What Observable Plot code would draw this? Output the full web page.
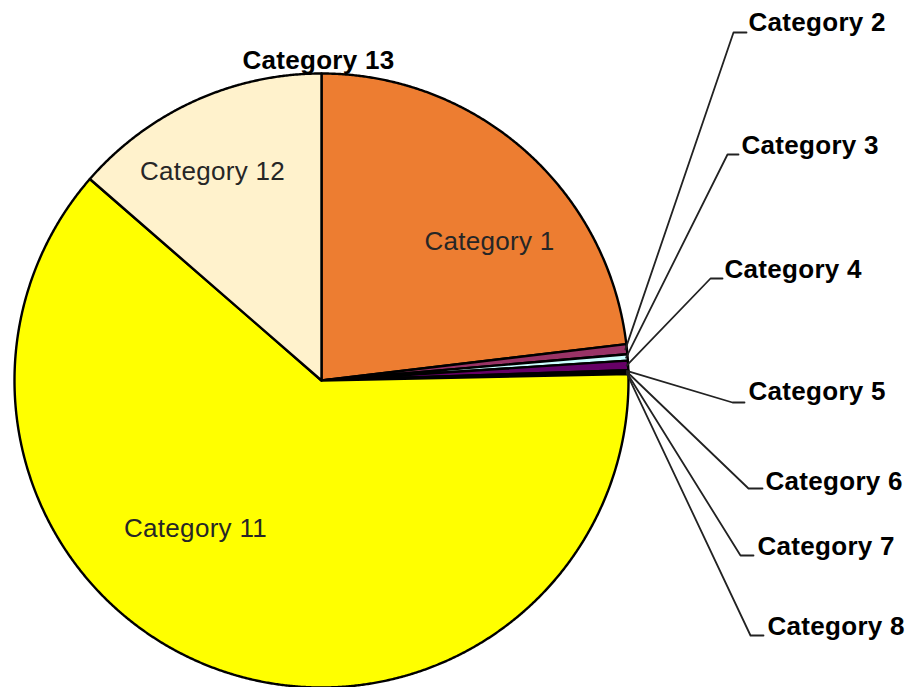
<!DOCTYPE html>
<html><head><meta charset="utf-8">
<script src="https://cdn.jsdelivr.net/npm/d3@7"></script>
<script src="https://cdn.jsdelivr.net/npm/@observablehq/plot@0.6"></script>
<style>body{margin:0;background:#fff;overflow:hidden}</style>
</head><body><div id="chart"></div>
<script>
const categories = ["Category 1","Category 2","Category 3","Category 4","Category 5","Category 6","Category 7","Category 8","Category 9","Category 10","Category 11","Category 12","Category 13"];
const values = [23.1, 0.53, 0.33, 0.5, 0.05, 0.05, 0.05, 0.05, 0, 0, 61.7, 13.6, 0];
const colors = ["#ED7D31","#993366","#CCFFFF","#660066","#FF8080","#0066CC","#CCCCFF","#000080","#FF00FF","#00FFFF","#FFFF00","#FFF2CC","#800080"];

// Layout (pixel positions of label anchors) — not data
const W = 907, H = 687, CX = 321, CY = 380, R = 307;
const outsideLabels = [
  {name:"Category 2", tx:748, ty:22,  ex:733, ey:32,  hx:746},
  {name:"Category 3", tx:741, ty:145, ex:727, ey:154, hx:738},
  {name:"Category 4", tx:724, ty:269, ex:710, ey:278, hx:722},
  {name:"Category 5", tx:748, ty:391, ex:732, ey:402, hx:744},
  {name:"Category 6", tx:765, ty:481, ex:748, ey:488, hx:762},
  {name:"Category 7", tx:757, ty:546, ex:740, ey:555, hx:753},
  {name:"Category 8", tx:767, ty:626, ex:750, ey:635, hx:763}
];
const insideLabels = [
  {name:"Category 1",  tx:489, ty:241, bold:false},
  {name:"Category 12", tx:212, ty:171, bold:false},
  {name:"Category 11", tx:195, ty:528, bold:false},
  {name:"Category 13", tx:318, ty:60,  bold:true}
];
const ux = px => (px - CX) / R, uy = py => (py - CY) / R;

const data = categories.map((c, i) => ({category: c, value: values[i], color: colors[i]}));
const arcs = d3.pie().sort(null).value(d => d.value)(data);
const pt = (a, r=1) => [r * Math.sin(a), -r * Math.cos(a)];

const wedges = arcs.filter(a => a.data.value > 0).map(a => {
  const coords = [[0, 0]];
  const n = Math.max(2, Math.ceil((a.endAngle - a.startAngle) / (Math.PI / 720)));
  for (let k = 0; k <= n; k++) coords.push(pt(a.startAngle + (a.endAngle - a.startAngle) * k / n));
  coords.push([0, 0]);
  return {type: "Feature", properties: {color: a.data.color}, geometry: {type: "Polygon", coordinates: [coords]}};
});

const byName = new Map(arcs.map(a => [a.data.category, a]));
const leaders = outsideLabels.map(l => {
  const a = byName.get(l.name);
  const mid = (a.startAngle + a.endAngle) / 2;
  return {type: "Feature", properties: {}, geometry: {type: "LineString",
    coordinates: [pt(mid, 0.995), [ux(l.ex), uy(l.ey)], [ux(l.hx), uy(l.ey)]]}};
});

const font = "'Liberation Sans', Arial, sans-serif";
const chart = Plot.plot({
  width: W, height: H,
  margin: 0,
  projection: {type: "identity", domain: {type: "MultiPoint", coordinates: [[ux(0), uy(0)], [ux(W), uy(H)]]}},
  style: {fontFamily: font, background: "#fff", overflow: "visible"},
  marks: [
    Plot.geo(wedges, {fill: d => d.properties.color, stroke: "#000", strokeWidth: 2.4, strokeLinejoin: "round"}),
    Plot.geo(leaders, {stroke: "#222", strokeWidth: 1.8, fill: "none"}),
    Plot.text(insideLabels.filter(d => !d.bold), {x: d => ux(d.tx), y: d => uy(d.ty), text: "name",
      fontSize: 26, fill: "#262626", textAnchor: "middle", lineAnchor: "middle", fontFamily: font}),
    Plot.text(insideLabels.filter(d => d.bold), {x: d => ux(d.tx), y: d => uy(d.ty), text: "name",
      fontSize: 26, fontWeight: "bold", fill: "#000", textAnchor: "middle", lineAnchor: "middle", fontFamily: font}),
    Plot.text(outsideLabels, {x: d => ux(d.tx), y: d => uy(d.ty), text: "name",
      fontSize: 26, fontWeight: "bold", fill: "#000", textAnchor: "start", lineAnchor: "middle", fontFamily: font})
  ]
});
chart.querySelectorAll("text").forEach(t => t.style.letterSpacing = "0.3px");
document.getElementById("chart").append(chart);
</script>
</body></html>
